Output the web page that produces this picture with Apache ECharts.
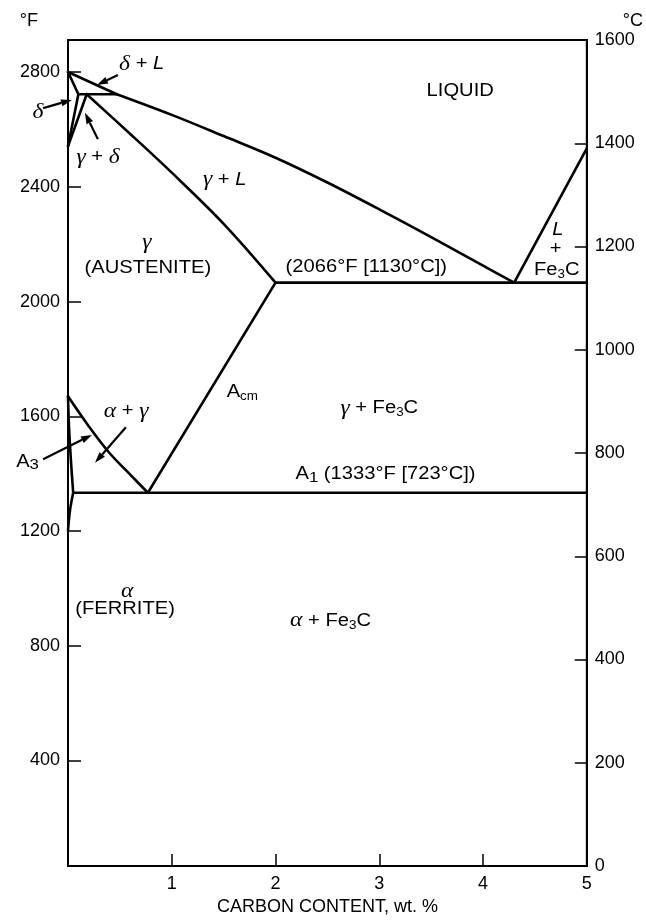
<!DOCTYPE html>
<html>
<head>
<meta charset="utf-8">
<script src="https://cdn.jsdelivr.net/npm/echarts@6/dist/echarts.min.js"></script>
<style>
  html, body { margin: 0; padding: 0; background: #fff; }
  #chart { width: 646px; height: 923px; }
</style>
</head>
<body>
<div id="chart"></div>
<script>
// Iron–carbon (Fe–Fe3C) equilibrium diagram: carbon content (wt.%) vs temperature.
// Boundaries are given as [wt.% C, °C] and drawn against the right-hand °C axis;
// the left-hand axis shows the same range in °F (32 °F .. 2912 °F).

const carbonTicks = [0, 1, 2, 3, 4, 5];
const fahrenheitTicks = [400, 800, 1200, 1600, 2000, 2400, 2800];
const celsiusTicks = [0, 200, 400, 600, 800, 1000, 1200, 1400, 1600];

// Phase boundaries [wt.% C, °C]
const liquidus = [[0.47, 1495], [1.0, 1455], [1.5, 1414], [2.0, 1372], [2.5, 1324], [3.0, 1272], [3.5, 1218], [4.0, 1163], [4.3, 1130]];
const deltaLiquidus = [[0, 1538], [0.47, 1495]];
const cementiteLiquidus = [[4.3, 1130], [5.0, 1390]];
const deltaSolidus = [[0, 1538], [0.1, 1495]];
const peritectic = [[0.1, 1495], [0.47, 1495]];
const deltaSolvus = [[0.1, 1495], [0, 1394]];
const gammaDeltaBoundary = [[0.18, 1495], [0, 1394]];
const austeniteSolidus = [[0.18, 1495], [0.6, 1418], [1.0, 1343], [1.5, 1244], [2.0, 1130]];
const eutectic = [[2.0, 1130], [5.0, 1130]];
const acm = [[0.77, 723], [2.0, 1130]];
const a3 = [[0, 910], [0.2, 852], [0.4, 800], [0.6, 758], [0.77, 723]];
const ferriteBoundary = [[0, 910], [0.01, 850], [0.03, 780], [0.05, 723]];
const ferriteSolvus = [[0.05, 723], [0.02, 690], [0, 650]];
const a1 = [[0.05, 723], [5.0, 723]];

// curved boundaries get smoothing, straight ones stay as drawn
const curvedBoundaries = [liquidus, austeniteSolidus, a3, ferriteBoundary, ferriteSolvus];
const straightBoundaries = [deltaLiquidus, cementiteLiquidus, deltaSolidus, peritectic, deltaSolvus,
  gammaDeltaBoundary, eutectic, acm, a1];

// Region and line labels, placed at [wt.% C, °C]
const labelX = [3.78, 0.71, -0.29, 0.29, 1.51, 0.76, 0.77, 2.875, 4.72, 4.70, 4.71, 1.68, 3.0, 3.06, 0.56, -0.39, 0.57, 0.55, 2.53];
const labelT = [1501, 1553, 1459, 1373, 1329, 1207, 1158, 1160, 1232, 1195, 1155, 918, 887, 759, 881, 783, 531, 498, 475];
const labelText = [
  'LIQUID',
  '{g|δ} + {i|L}',
  '{g|δ}',
  '{g|γ} + {g|δ}',
  '{g|γ} + {i|L}',
  '{g|γ}',
  '(AUSTENITE)',
  '(2066°F [1130°C])',
  '{i|L}',
  '+',
  'Fe{s|3}C',
  'A{s|cm}',
  '{g|γ} + Fe{s|3}C',
  'A{s2|1} (1333°F [723°C])',
  '{g|α} + {g|γ}',
  'A{s2|3}',
  '{g|α}',
  '(FERRITE)',
  '{g|α} + Fe{s|3}C'
];

// Pointer arrows: [from %C, from °C, to %C, to °C]
const arrows = [
  [0.481, 1532, 0.279, 1513],
  [-0.24, 1468, 0.038, 1484],
  [0.288, 1408, 0.163, 1459],
  [-0.24, 788, 0.231, 835],
  [0.558, 850, 0.26, 781]
];

const SANS = 'Liberation Sans';
const SERIF = 'Liberation Serif';
const TEXT_STRETCH = 1.12;

const richStyles = {
  g: { fontFamily: SERIF, fontStyle: 'italic', fontSize: 21, lineHeight: 22, fill: '#000' },
  i: { fontFamily: SANS, fontStyle: 'italic', fontSize: 18, lineHeight: 22, fill: '#000' },
  s: { fontFamily: SANS, fontSize: 12, lineHeight: 12, verticalAlign: 'bottom', fill: '#000' },
  s2: { fontFamily: SANS, fontSize: 15, lineHeight: 15, verticalAlign: 'bottom', fill: '#000' }
};

const chart = echarts.init(document.getElementById('chart'), null, { renderer: 'canvas' });

function boundarySeries(pts, smooth) {
  return {
    type: 'line',
    xAxisIndex: 0,
    yAxisIndex: 1,
    data: pts,
    showSymbol: false,
    symbol: 'none',
    smooth: smooth,
    clip: false,
    silent: true,
    lineStyle: { color: '#000', width: 2.6, cap: 'round', join: 'round' },
    z: 3
  };
}

const lineSeries = [
  ...curvedBoundaries.map(pts => boundarySeries(pts, 0.35)),
  ...straightBoundaries.map(pts => boundarySeries(pts, false))
];

const labelSeries = {
  type: 'custom',
  xAxisIndex: 0,
  yAxisIndex: 1,
  data: labelX.map((x, i) => [x, labelT[i]]),
  clip: false,
  silent: true,
  z: 5,
  renderItem(params, api) {
    const p = api.coord([api.value(0), api.value(1)]);
    return {
      type: 'text',
      x: p[0],
      y: p[1],
      scaleX: TEXT_STRETCH,
      style: {
        text: labelText[params.dataIndex],
        rich: richStyles,
        fontFamily: SANS,
        fontSize: 18,
        lineHeight: 22,
        fill: '#000',
        align: 'center',
        verticalAlign: 'middle'
      }
    };
  }
};

const arrowSeries = {
  type: 'custom',
  xAxisIndex: 0,
  yAxisIndex: 1,
  data: arrows,
  clip: false,
  silent: true,
  z: 4,
  renderItem(params, api) {
    const a = api.coord([api.value(0), api.value(1)]);
    const b = api.coord([api.value(2), api.value(3)]);
    const dx = b[0] - a[0], dy = b[1] - a[1];
    const len = Math.sqrt(dx * dx + dy * dy);
    const ux = dx / len, uy = dy / len;
    const headLen = 11, headHalf = 3.6;
    const bx = b[0] - ux * headLen, by = b[1] - uy * headLen;
    return {
      type: 'group',
      children: [
        { type: 'line', shape: { x1: a[0], y1: a[1], x2: bx, y2: by }, style: { stroke: '#000', lineWidth: 2.2 } },
        { type: 'polygon', shape: { points: [[b[0], b[1]], [bx - uy * headHalf, by + ux * headHalf], [bx + uy * headHalf, by - ux * headHalf]] }, style: { fill: '#000' } }
      ]
    };
  }
};

const axisFont = { color: '#000', fontFamily: SANS, fontSize: 18 };
const plainNumber = v => String(v);

chart.setOption({
  backgroundColor: '#fff',
  animation: false,
  grid: { left: 68, right: 58, top: 40, bottom: 57, show: true, borderColor: '#000', borderWidth: 2, backgroundColor: 'transparent' },
  xAxis: {
    type: 'value',
    min: carbonTicks[0],
    max: carbonTicks[carbonTicks.length - 1],
    interval: 1,
    name: 'CARBON CONTENT, wt. %',
    nameLocation: 'middle',
    nameGap: 31,
    nameTextStyle: { color: '#000', fontFamily: SANS, fontSize: 18 },
    axisLine: { show: true, lineStyle: { color: '#000', width: 2 } },
    axisTick: { show: true, inside: true, length: 12, lineStyle: { color: '#000', width: 1.5 } },
    axisLabel: { ...axisFont, margin: 9, formatter: v => (v === 0 ? '' : String(v)) },
    splitLine: { show: false }
  },
  yAxis: [
    {
      type: 'value',
      position: 'left',
      min: 32,
      max: 2912,
      name: '°F',
      nameLocation: 'end',
      nameGap: 10,
      nameTextStyle: { color: '#000', fontFamily: SANS, fontSize: 18, align: 'right', padding: [0, 30, 0, 0] },
      axisLine: { show: true, lineStyle: { color: '#000', width: 2 } },
      axisTick: { show: true, inside: true, length: 13, customValues: fahrenheitTicks, lineStyle: { color: '#000', width: 1.5 } },
      axisLabel: { ...axisFont, margin: 8, customValues: fahrenheitTicks, formatter: plainNumber },
      splitLine: { show: false }
    },
    {
      type: 'value',
      position: 'right',
      min: celsiusTicks[0],
      max: celsiusTicks[celsiusTicks.length - 1],
      interval: 200,
      name: '°C',
      nameLocation: 'end',
      nameGap: 10,
      nameTextStyle: { color: '#000', fontFamily: SANS, fontSize: 18, align: 'left', padding: [0, 0, 0, 36] },
      axisLine: { show: true, lineStyle: { color: '#000', width: 2 } },
      axisTick: { show: true, inside: true, length: 12, lineStyle: { color: '#000', width: 1.5 } },
      axisLabel: { ...axisFont, margin: 8, formatter: plainNumber },
      splitLine: { show: false }
    }
  ],
  series: [...lineSeries, arrowSeries, labelSeries]
});
</script>
</body>
</html>
